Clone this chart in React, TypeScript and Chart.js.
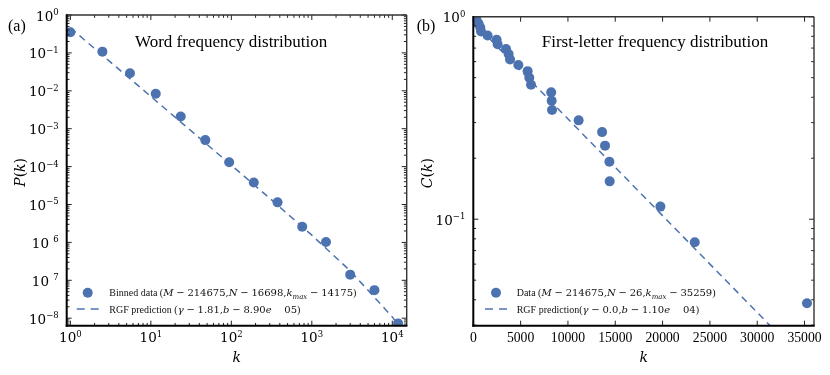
import React, { useEffect, useRef } from "react";
import { Chart, registerables } from "chart.js";

Chart.register(...registerables);

const BLUE = "rgb(76,114,176)";
const TEXT_FONT = '"Liberation Serif", "Times New Roman", serif';
const MATH_FONT = '"DejaVu Serif", serif';

// ===== Panel (a): word frequency distribution (log-log) =====
const wordK = [1, 2.5, 5.5, 11.5, 23.5, 47.5, 94, 190, 375, 760, 1500, 3000, 6000, 11800];
const wordP = [0.35, 0.108, 0.029, 0.0084, 0.0021, 5.0e-4, 1.3e-4, 3.8e-5, 1.14e-5, 2.6e-6, 1.03e-6, 1.41e-7, 5.5e-8, 7.3e-9];
const wordFitK = [1, 3, 10, 30, 100, 300, 1000, 3000, 10000, 16000];
const wordFitP = [0.457, 0.0626, 0.00707, 9.66e-4, 1.087e-4, 1.462e-5, 1.553e-6, 1.78e-7, 1.08e-8, 2.7e-9];
const wordXTicks = [1, 10, 100, 1000, 10000];
const wordXTickExp = ["0", "1", "2", "3", "4"];
const wordYTicks = [1, 1e-1, 1e-2, 1e-3, 1e-4, 1e-5, 1e-6, 1e-7, 1e-8];
// the reference renders 10^-6 and 10^-7 with a blank where the minus glyph should be
const wordYTickExp = ["0", "−1", "−2", "−3", "−4", "−5", "\u20026", "\u20027", "−8"];

// ===== Panel (b): first-letter frequency distribution (semi-log) =====
const letterK = [150, 350, 560, 740, 815, 1510, 2460, 2570, 3460, 3730, 3880, 4760, 5740, 5920, 6100, 8230, 8280, 8320, 11130, 13610, 13920, 14380, 14410, 19770, 23400, 35259];
const letterC = [1.0, 0.9615, 0.9231, 0.8846, 0.8462, 0.8077, 0.7692, 0.7308, 0.6923, 0.6538, 0.6154, 0.5769, 0.5385, 0.5, 0.4615, 0.4231, 0.3846, 0.3462, 0.3077, 0.2692, 0.2308, 0.1923, 0.1538, 0.1154, 0.0769, 0.0385];
const letterFitK = [0, 36000];
const letterFitC = [0.94, 0.0179];
const letterXTicks = [0, 5000, 10000, 15000, 20000, 25000, 30000, 35000];
const letterXTickLabels = ["0", "5000", "10000", "15000", "20000", "25000", "30000", "35000"];
const letterYTicks = [1, 0.1];
const letterYTickExp = ["0", "−1"];

type Seg = { t: string; f: "text" | "math" | "mathIt" | "sub" | "rel" | "gap" };

const wordLegendData: Seg[] = [
  { t: "Binned data (", f: "text" }, { t: "M", f: "mathIt" }, { t: "−", f: "rel" }, { t: "214675,", f: "math" },
  { t: "N", f: "mathIt" }, { t: "−", f: "rel" }, { t: "16698,", f: "math" }, { t: "k", f: "mathIt" },
  { t: "max", f: "sub" }, { t: "−", f: "rel" }, { t: "14175", f: "math" }, { t: ")", f: "text" },
];
const wordLegendFit: Seg[] = [
  { t: "RGF prediction (", f: "text" }, { t: "γ", f: "mathIt" }, { t: "−", f: "rel" }, { t: "1.81,", f: "math" },
  { t: "b", f: "mathIt" }, { t: "−", f: "rel" }, { t: "8.90", f: "math" }, { t: "e", f: "mathIt" },
  { t: "−", f: "gap" }, { t: "05", f: "math" }, { t: ")", f: "text" },
];
const letterLegendData: Seg[] = [
  { t: "Data (", f: "text" }, { t: "M", f: "mathIt" }, { t: "−", f: "rel" }, { t: "214675,", f: "math" },
  { t: "N", f: "mathIt" }, { t: "−", f: "rel" }, { t: "26,", f: "math" }, { t: "k", f: "mathIt" },
  { t: "max", f: "sub" }, { t: "−", f: "rel" }, { t: "35259", f: "math" }, { t: ")", f: "text" },
];
const letterLegendFit: Seg[] = [
  { t: "RGF prediction(", f: "text" }, { t: "γ", f: "mathIt" }, { t: "−", f: "rel" }, { t: "0.0,", f: "math" },
  { t: "b", f: "mathIt" }, { t: "−", f: "rel" }, { t: "1.10", f: "math" }, { t: "e", f: "mathIt" },
  { t: "−", f: "gap" }, { t: "04", f: "math" }, { t: ")", f: "text" },
];

interface PanelSpec {
  id: string;
  offsetX: number;
  xType: "logarithmic" | "linear";
  xMin: number; xMax: number; yMin: number; yMax: number;
  pointsX: number[]; pointsY: number[]; fitX: number[]; fitY: number[];
  xTicks: number[]; xTickExp: string[] | null; xTickLabels: string[] | null;
  yTicks: number[]; yTickExp: string[];
  padding: { left: number; top: number; right: number; bottom: number };
  panelLabel: string; panelLabelX: number;
  title: string; titleX: number;
  yTitle: Seg[]; yTitleX: number;
  legendMarkX: number; legendTextX: number; legendData: Seg[]; legendFit: Seg[];
}

function segFont(f: Seg["f"], size: number) {
  if (f === "text") return `${size}px ${TEXT_FONT}`;
  if (f === "mathIt") return `italic ${size}px ${MATH_FONT}`;
  if (f === "sub") return `italic ${size * 0.7}px ${MATH_FONT}`;
  return `${size}px ${MATH_FONT}`;
}

function drawSegs(ctx: CanvasRenderingContext2D, segs: Seg[], x: number, y: number, size: number, draw = true) {
  let cx = x;
  for (const s of segs) {
    ctx.font = segFont(s.f, size);
    const w = ctx.measureText(s.t).width;
    if (s.f === "rel") {
      cx += size * 0.28;
      if (draw) ctx.fillText(s.t, cx, y);
      cx += w + size * 0.28;
    } else if (s.f === "gap") {
      cx += w + size * 0.44;
    } else {
      if (draw) ctx.fillText(s.t, cx, s.f === "sub" ? y + size * 0.22 : y);
      cx += w;
    }
  }
  return cx - x;
}

function logTicks(min: number, max: number) {
  const out: { v: number; major: boolean }[] = [];
  const d0 = Math.floor(Math.log10(min));
  const d1 = Math.ceil(Math.log10(max));
  for (let d = d0; d <= d1; d++) {
    for (let m = 1; m <= 9; m++) {
      const v = m * Math.pow(10, d);
      if (v >= min * 0.9999 && v <= max * 1.0001) out.push({ v, major: m === 1 });
    }
  }
  return out;
}

function line(ctx: CanvasRenderingContext2D, x1: number, y1: number, x2: number, y2: number) {
  ctx.beginPath();
  ctx.moveTo(x1, y1);
  ctx.lineTo(x2, y2);
  ctx.stroke();
}

function drawPow(ctx: CanvasRenderingContext2D, exp: string, x: number, y: number, align: "center" | "right") {
  const base = 13.5, sup = 8.5, raise = 5.5;
  ctx.font = `${base}px ${MATH_FONT}`;
  const wb = ctx.measureText("10").width;
  ctx.font = `${sup}px ${MATH_FONT}`;
  const we = ctx.measureText(exp).width;
  const w = wb + we;
  const x0 = align === "center" ? x - w / 2 : x - w;
  ctx.font = `${base}px ${MATH_FONT}`;
  ctx.fillText("10", x0, y);
  ctx.font = `${sup}px ${MATH_FONT}`;
  ctx.fillText(exp, x0 + wb, y - raise);
}

function drawDecor(chart: Chart, s: PanelSpec) {
  const ctx = chart.ctx;
  const { left, right, top, bottom } = chart.chartArea;
  const xs = chart.scales.x;
  const ys = chart.scales.y;
  ctx.save();
  ctx.textAlign = "left";
  ctx.textBaseline = "alphabetic";
  ctx.fillStyle = "#000";

  // inward ticks on all four sides
  ctx.strokeStyle = "#222";
  ctx.lineWidth = 1;
  const MAJ = 5, MIN = 2.8;
  const xList = s.xType === "logarithmic" ? logTicks(s.xMin, s.xMax) : s.xTicks.map((v) => ({ v, major: true }));
  for (const t of xList) {
    const px = xs.getPixelForValue(t.v);
    const len = t.major ? MAJ : MIN;
    line(ctx, px, bottom, px, bottom - len);
    line(ctx, px, top, px, top + len);
  }
  for (const t of logTicks(s.yMin, s.yMax)) {
    const py = ys.getPixelForValue(t.v);
    const len = t.major ? MAJ : MIN;
    line(ctx, left, py, left + len, py);
    line(ctx, right, py, right - len, py);
  }

  // frame
  ctx.strokeStyle = "#333";
  ctx.lineWidth = 1.4;
  line(ctx, left, top, right, top);
  line(ctx, right, top, right, bottom);
  ctx.strokeStyle = "#000";
  ctx.lineWidth = 2;
  line(ctx, left, top - 0.7, left, bottom + 1);
  line(ctx, left - 1, bottom, right + 0.7, bottom);

  // x tick labels
  s.xTicks.forEach((v, i) => {
    const px = xs.getPixelForValue(v);
    if (s.xTickExp) {
      drawPow(ctx, s.xTickExp[i], px, bottom + 16.3, "center");
    } else if (s.xTickLabels) {
      ctx.font = `13.7px ${TEXT_FONT}`;
      ctx.textAlign = "center";
      ctx.fillText(s.xTickLabels[i], px, bottom + 16);
      ctx.textAlign = "left";
    }
  });
  // y tick labels
  s.yTicks.forEach((v, i) => {
    const py = ys.getPixelForValue(v);
    drawPow(ctx, s.yTickExp[i], left - 8, py + 5.5, "right");
  });

  // panel label and title
  ctx.font = `16px ${TEXT_FONT}`;
  ctx.fillText(s.panelLabel, s.panelLabelX, 31);
  ctx.font = `17px ${TEXT_FONT}`;
  ctx.fillText(s.title, s.titleX, 47);

  // axis titles
  ctx.save();
  ctx.translate(s.yTitleX, (top + bottom) / 2 + 2);
  ctx.rotate(-Math.PI / 2);
  const yw = drawSegs(ctx, s.yTitle, 0, 0, 14, false);
  drawSegs(ctx, s.yTitle, -yw / 2, 5, 14);
  ctx.restore();
  const xt: Seg[] = [{ t: "k", f: "mathIt" }];
  const xw = drawSegs(ctx, xt, 0, 0, 14, false);
  drawSegs(ctx, xt, (left + right) / 2 - xw / 2, 361.5, 14);

  // legend
  const row1 = bottom - 33;
  const row2 = bottom - 16.7;
  ctx.fillStyle = BLUE;
  ctx.beginPath();
  ctx.arc(s.legendMarkX, row1, 5, 0, Math.PI * 2);
  ctx.fill();
  ctx.strokeStyle = BLUE;
  ctx.lineWidth = 1.5;
  ctx.setLineDash([8, 6]);
  line(ctx, s.legendMarkX - 11, row2, s.legendMarkX + 12.3, row2);
  ctx.setLineDash([]);
  ctx.fillStyle = "#111";
  drawSegs(ctx, s.legendData, s.legendTextX, row1 + 3.6, 10);
  drawSegs(ctx, s.legendFit, s.legendTextX, row2 + 3.6, 10);

  ctx.restore();
}

const panelA: PanelSpec = {
  id: "a",
  offsetX: 0,
  xType: "logarithmic",
  xMin: 0.9, xMax: 15100, yMin: 6.34e-9, yMax: 1,
  pointsX: wordK, pointsY: wordP, fitX: wordFitK, fitY: wordFitP,
  xTicks: wordXTicks, xTickExp: wordXTickExp, xTickLabels: null,
  yTicks: wordYTicks, yTickExp: wordYTickExp,
  padding: { left: 66.7, top: 15, right: 8.3, bottom: 49.3 },
  panelLabel: "(a)", panelLabelX: 8,
  title: "Word frequency distribution", titleX: 135,
  yTitle: [{ t: "P", f: "mathIt" }, { t: "(", f: "math" }, { t: "k", f: "mathIt" }, { t: ")", f: "math" }],
  yTitleX: 20,
  legendMarkX: 87.7, legendTextX: 109.3, legendData: wordLegendData, legendFit: wordLegendFit,
};

const panelB: PanelSpec = {
  id: "b",
  offsetX: 415,
  xType: "linear",
  xMin: 0, xMax: 36000, yMin: 0.0298, yMax: 1,
  pointsX: letterK, pointsY: letterC, fitX: letterFitK, fitY: letterFitC,
  xTicks: letterXTicks, xTickExp: null, xTickLabels: letterXTickLabels,
  yTicks: letterYTicks, yTickExp: letterYTickExp,
  padding: { left: 58.3, top: 16.7, right: 16, bottom: 49.3 },
  panelLabel: "(b)", panelLabelX: 1.7,
  title: "First-letter frequency distribution", titleX: 126.7,
  yTitle: [{ t: "C", f: "mathIt" }, { t: "(", f: "math" }, { t: "k", f: "mathIt" }, { t: ")", f: "math" }],
  yTitleX: 12,
  legendMarkX: 81, legendTextX: 101.7, legendData: letterLegendData, legendFit: letterLegendFit,
};

function Panel({ spec }: { spec: PanelSpec }) {
  const ref = useRef<HTMLCanvasElement>(null);
  useEffect(() => {
    const s = spec;
    const chart = new Chart(ref.current!, {
      type: "scatter",
      data: {
        datasets: [
          {
            label: "fit",
            data: s.fitX.map((x, i) => ({ x, y: s.fitY[i] })),
            showLine: true,
            borderColor: BLUE,
            borderWidth: 1.5,
            borderDash: [7, 5],
            pointRadius: 0,
            fill: false,
            clip: 0,
            order: 0,
          },
          {
            label: "data",
            data: s.pointsX.map((x, i) => ({ x, y: s.pointsY[i] })),
            pointRadius: 5,
            pointBackgroundColor: BLUE,
            pointBorderColor: BLUE,
            pointBorderWidth: 0,
            clip: 0,
            order: 1,
          },
        ],
      },
      options: {
        animation: false,
        responsive: false,
        devicePixelRatio: 1,
        events: [],
        layout: { padding: s.padding },
        plugins: { legend: { display: false }, tooltip: { enabled: false }, title: { display: false } },
        scales: {
          x: { type: s.xType, min: s.xMin, max: s.xMax, display: false },
          y: { type: "logarithmic", min: s.yMin, max: s.yMax, display: false },
        },
      },
      plugins: [{ id: "decor-" + s.id, afterDraw: (c: Chart) => drawDecor(c, s) }],
    } as any);
    return () => chart.destroy();
  }, [spec]);
  return (
    <canvas
      ref={ref}
      width={415}
      height={375}
      style={{ position: "absolute", left: spec.offsetX, top: 0, width: 415, height: 375 }}
    />
  );
}

export default function App() {
  return (
    <div style={{ position: "fixed", left: 0, top: 0, width: 830, height: 375, background: "#fff", overflow: "hidden" }}>
      <Panel spec={panelA} />
      <Panel spec={panelB} />
    </div>
  );
}
